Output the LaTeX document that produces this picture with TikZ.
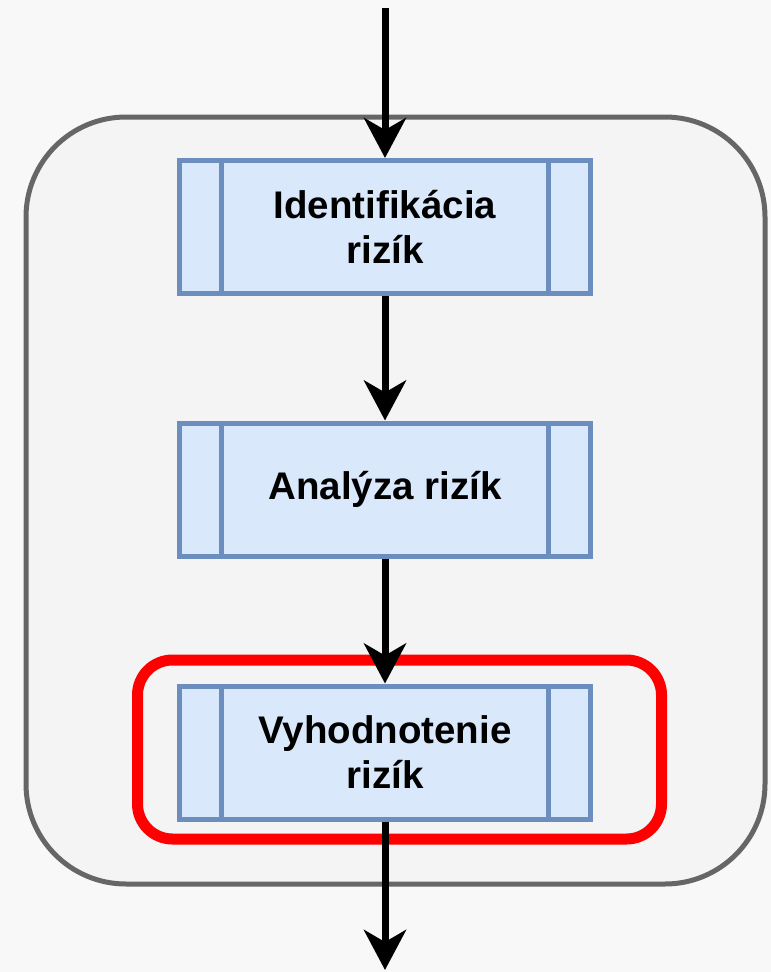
\documentclass[tikz,border=0pt]{standalone}
\usepackage{fontspec}
\setmainfont{Liberation Sans}
\usetikzlibrary{arrows.meta}
\definecolor{bgcol}{HTML}{F8F8F8}
\definecolor{contfill}{HTML}{F4F4F4}
\definecolor{contdraw}{HTML}{666666}
\definecolor{boxfill}{HTML}{DAE8FC}
\definecolor{boxdraw}{HTML}{6C8EBF}
\definecolor{hlred}{HTML}{FF0000}
\tikzset{
  container/.style={draw=contdraw, fill=contfill, line width=5pt, rounded corners=100pt,
    minimum width=739pt, minimum height=767pt, inner sep=0pt},
  highlight/.style={draw=hlred, line width=11pt, rounded corners=35pt,
    minimum width=524pt, minimum height=179pt, inner sep=0pt},
  procbox/.style={draw=boxdraw, fill=boxfill, line width=5pt,
    minimum width=411pt, minimum height=133pt, inner sep=0pt, align=center,
    font=\fontsize{38.5}{45}\selectfont\bfseries, text=black,
    path picture={
      \draw[draw=boxdraw, line width=5pt]
        ([xshift=42pt]path picture bounding box.north west) -- ([xshift=42pt]path picture bounding box.south west)
        ([xshift=-42pt]path picture bounding box.north east) -- ([xshift=-42pt]path picture bounding box.south east);
    }},
  arr/.style={draw=black, line width=7pt, -{Stealth[length=40pt,width=42pt,inset=12pt]}}
}
\begin{document}
\begin{tikzpicture}[x=1pt,y=-1pt]
\fill[bgcol] (0,0) rectangle (771,972);
\useasboundingbox (0,0) rectangle (771,972);
\node[container] (cont) at (395.5,500.5) {};
\node[highlight] (hl) at (399.5,749.5) {};
\node[procbox] (n1) at (385,227) {Identifikácia\\rizík};
\node[procbox] (n2) at (385,489.5) {Analýza rizík};
\node[procbox] (n3) at (385,752.5) {Vyhodnotenie\\rizík};
\coordinate (top) at (385,8);
\coordinate (bot) at (385,970);
\draw[arr] (top) -- (n1);
\draw[arr] (n1) -- (n2);
\draw[arr] (n2) -- (n3);
\draw[arr] (n3) -- (bot);
\end{tikzpicture}
\end{document}
